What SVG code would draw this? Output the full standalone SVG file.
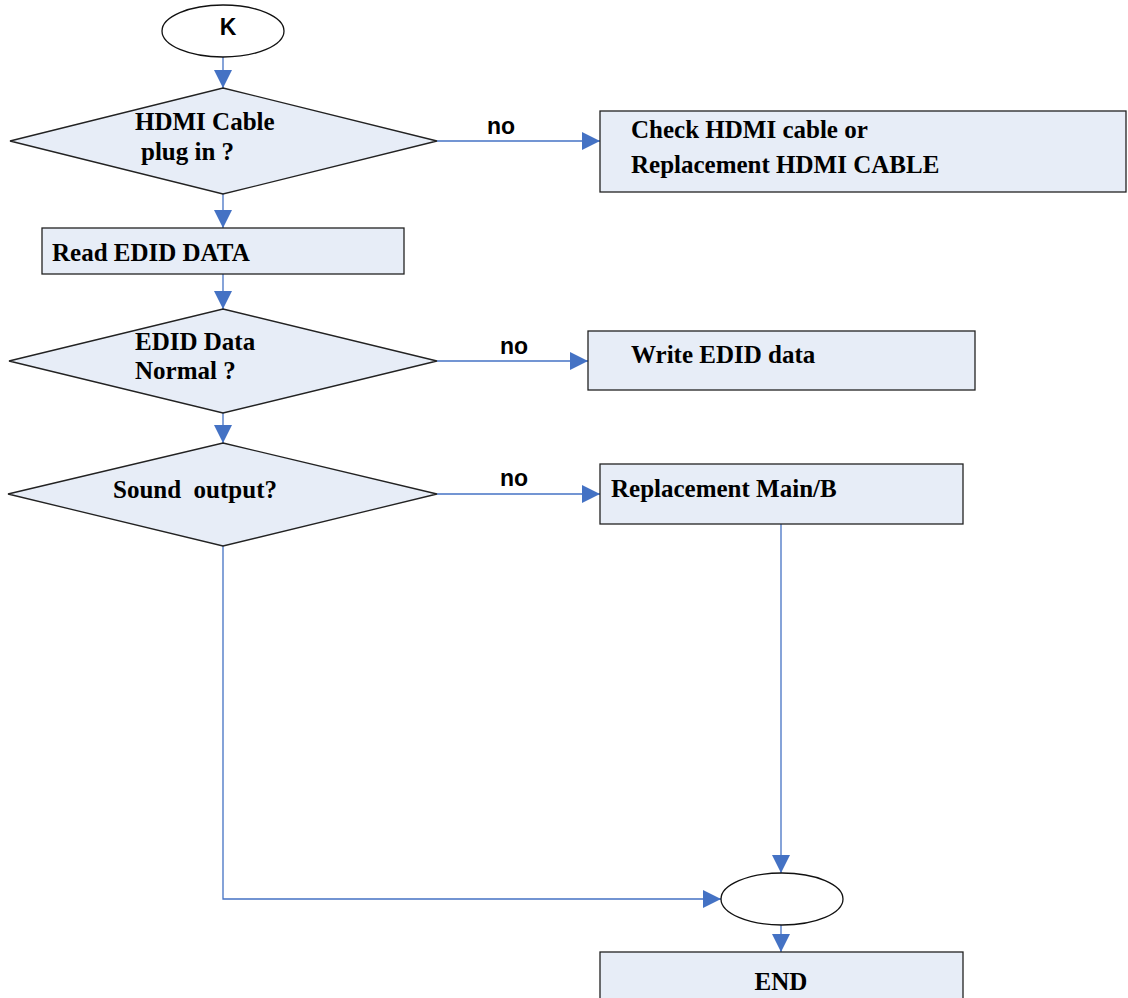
<svg xmlns="http://www.w3.org/2000/svg" width="1128" height="998" viewBox="0 0 1128 998">
<style>
.shape{fill:#E7EDF7;stroke:#222;stroke-width:1.3}
.term{fill:#fff;stroke:#111;stroke-width:1.3}
.t{font-family:"Liberation Serif",serif;font-weight:bold;font-size:25px;fill:#000}
.lbl{font-family:"Liberation Sans",sans-serif;font-weight:bold;font-size:23px;fill:#000}
.c{fill:none;stroke:#4472C4;stroke-width:1.3}
</style>
<defs>
<marker id="ah" viewBox="0 0 10 10" refX="10" refY="5" markerWidth="18" markerHeight="18" markerUnits="userSpaceOnUse" orient="auto">
<path d="M0,0 L10,5 L0,10 z" fill="#4472C4"/>
</marker>
</defs>
<rect width="1128" height="998" fill="#fff"/>
<g id="connectors">
<path class="c" d="M223,57 V88" marker-end="url(#ah)"/>
<path class="c" d="M437,141 H600" marker-end="url(#ah)"/>
<path class="c" d="M223,194 V228" marker-end="url(#ah)"/>
<path class="c" d="M223,274 V309" marker-end="url(#ah)"/>
<path class="c" d="M437,361 H588" marker-end="url(#ah)"/>
<path class="c" d="M223,413 V443" marker-end="url(#ah)"/>
<path class="c" d="M437,494 H600" marker-end="url(#ah)"/>
<path class="c" d="M781,524 V873" marker-end="url(#ah)"/>
<path class="c" d="M223,546 V899 H721" marker-end="url(#ah)"/>
<path class="c" d="M781,925 V952" marker-end="url(#ah)"/>
<text class="lbl" x="487" y="134">no</text>
<text class="lbl" x="500" y="354">no</text>
<text class="lbl" x="500" y="486">no</text>
</g>
<g id="start">
<ellipse class="term" cx="223" cy="31" rx="61" ry="26"/>
<text class="lbl" x="228" y="35" text-anchor="middle">K</text>
</g>
<g id="d1">
<polygon class="shape" points="223,88 437,141 223,194 10,141"/>
<text class="t" x="135" y="130">HDMI Cable</text>
<text class="t" x="141" y="160">plug in ?</text>
</g>
<g id="b1">
<rect class="shape" x="600" y="111" width="526" height="81"/>
<text class="t" x="631" y="138">Check HDMI cable or</text>
<text class="t" x="631" y="173">Replacement HDMI CABLE</text>
</g>
<g id="read">
<rect class="shape" x="42" y="228" width="362" height="46"/>
<text class="t" x="52" y="261">Read EDID DATA</text>
</g>
<g id="d2">
<polygon class="shape" points="223,309 437,361 223,413 9,361"/>
<text class="t" x="135" y="350">EDID Data</text>
<text class="t" x="135" y="379">Normal ?</text>
</g>
<g id="write">
<rect class="shape" x="588" y="331" width="387" height="59"/>
<text class="t" x="631" y="363">Write EDID data</text>
</g>
<g id="d3">
<polygon class="shape" points="223,443 437,494 223,546 8,494"/>
<text class="t" x="113" y="498" xml:space="preserve">Sound  output?</text>
</g>
<g id="main">
<rect class="shape" x="600" y="464" width="363" height="60"/>
<text class="t" x="611" y="497">Replacement Main/B</text>
</g>
<g id="join">
<ellipse class="term" cx="782" cy="899" rx="61" ry="26"/>
</g>
<g id="end">
<rect class="shape" x="600" y="952" width="363" height="60"/>
<text class="t" x="781" y="990" text-anchor="middle">END</text>
</g>
</svg>
